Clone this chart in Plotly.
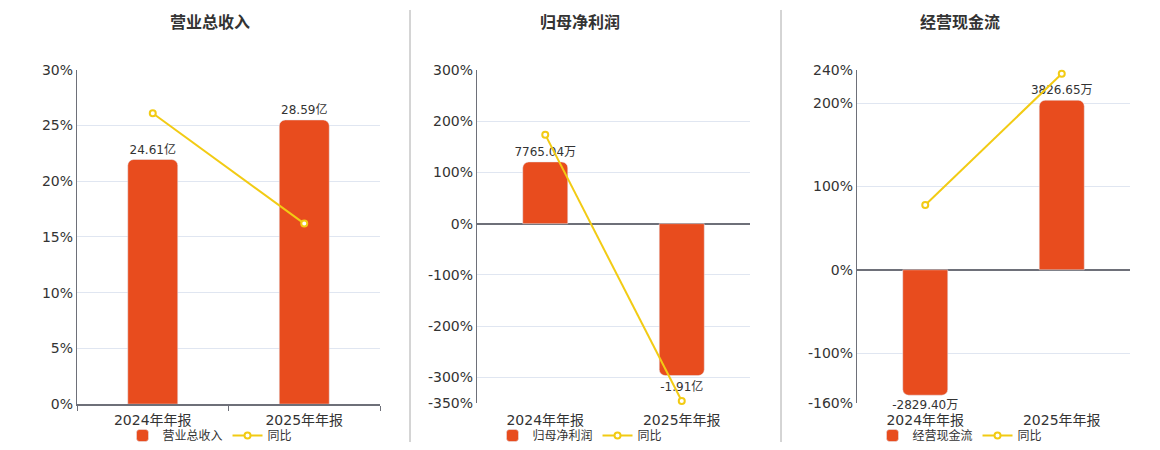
import plotly.graph_objects as go

years = ["2024年年报", "2025年年报"]

titles = ["营业总收入", "归母净利润", "经营现金流"]

# bar values in 亿, labels as shown
rev_vals = [24.61, 28.59]
rev_text = ["24.61亿", "28.59亿"]
rev_yoy = [26.1, 16.2]

np_vals = [0.776504, -1.91]
np_text = ["7765.04万", "-1.91亿"]
np_yoy = [173.6, -346.0]

cf_vals = [-0.282940, 0.382665]
cf_text = ["-2829.40万", "3826.65万"]
cf_yoy = [77.8, 235.3]

# tick setup of the percent axes
rev_ticks = [0, 5, 10, 15, 20, 25, 30]
np_ticks = [-350, -300, -200, -100, 0, 100, 200, 300]
cf_ticks = [-160, -100, 0, 100, 200, 240]

BAR = "#E84C1E"
LINE = "#F2CB14"
FONT = "DejaVu Sans, Noto Sans CJK SC"
OFF = 8  # page body margin
W, H = 1160 - OFF, 450 - OFF


def px_x(v):
    return (v - OFF) / W


def px_y(v):
    return 1 - (v - OFF) / H


fig = go.Figure()

panels = [
    (rev_vals, rev_text, rev_yoy, rev_ticks, 1.121, (77, 380), (70, 405), 210),
    (np_vals, np_text, np_yoy, np_ticks, 0.006446, (477, 750), (70, 404), 580),
    (cf_vals, cf_text, cf_yoy, cf_ticks, 0.00188, (857, 1130), (70, 404), 960),
]

for i, (vals, txt, yoy, ticks, ratio, xs, ys, mid) in enumerate(panels):
    n = i + 1
    xa = "x" if n == 1 else f"x{n}"
    yb = "y" if n == 1 else f"y{n}"   # hidden axis for the bars
    ya = f"y{n + 3}"                    # visible percent axis, on top
    lg = "legend" if n == 1 else f"legend{n}"

    fig.add_trace(go.Bar(
        x=years, y=vals, text=txt, textposition="outside",
        textfont=dict(size=12, color="#333"), cliponaxis=False,
        constraintext="none",
        marker=dict(color=BAR, cornerradius=6), width=0.33,
        name=titles[i], xaxis=xa, yaxis=yb, legend=lg,
    ))
    fig.add_trace(go.Scatter(
        x=years, y=yoy, mode="lines+markers", name="同比",
        line=dict(color=LINE, width=2),
        marker=dict(size=6, color="white", line=dict(color=LINE, width=2)),
        cliponaxis=False, xaxis=xa, yaxis=ya, legend=lg,
    ))

    lo, hi = ticks[0], ticks[-1]
    single = (lo == 0)

    fig.update_layout({
        ("xaxis" if n == 1 else f"xaxis{n}"): dict(
            domain=[px_x(xs[0]), px_x(xs[1])], anchor=yb,
            type="category", categoryarray=years,
            showline=single, linecolor="#6E7079", linewidth=2,
            ticks="outside" if single else "", tickson="boundaries",
            ticklen=5, tickcolor="#6E7079", showgrid=False,
            tickfont=dict(size=14, color="#333"), automargin=False,
            ticklabelstandoff=7 if not single else 2,
        ),
        ("yaxis" if n == 1 else f"yaxis{n}"): dict(
            domain=[px_y(ys[1]), px_y(ys[0])], anchor=xa,
            range=[lo * ratio, hi * ratio],
            showticklabels=False, showline=True, linecolor="#6E7079",
            linewidth=1, gridcolor="#E0E6F1", tickvals=[t * ratio for t in ticks],
            zeroline=False, ticks="", automargin=False,
        ),
        f"yaxis{n + 3}": dict(
            overlaying=yb, anchor=xa, range=[lo, hi],
            tickvals=ticks, ticktext=[f"{t}%" for t in ticks],
            tickfont=dict(size=14, color="#333"), ticklabelstandoff=3,
            showgrid=False, showline=False, zeroline=not single,
            zerolinecolor="#6E7079", zerolinewidth=2,
            ticks="", automargin=False,
        ),
        lg: dict(
            orientation="h", x=px_x(mid), xanchor="center",
            y=px_y(436), yanchor="middle", font=dict(size=12, color="#333"),
            bgcolor="rgba(0,0,0,0)", itemwidth=30,
        ),
    })

    fig.add_annotation(
        text=f"<b>{titles[i]}</b>", xref="paper", yref="paper",
        x=px_x(mid), y=px_y(23), xanchor="center", yanchor="middle",
        showarrow=False, font=dict(size=16, color="#333"),
    )

# panel dividers
for px in [410, 781]:
    fig.add_shape(type="line", xref="paper", yref="paper",
                  x0=px_x(px), x1=px_x(px), y0=px_y(443), y1=px_y(10),
                  line=dict(color="#AAAAAA", width=1))

fig.update_layout(
    width=W, height=H, margin=dict(l=0, r=0, t=0, b=0),
    paper_bgcolor="white", plot_bgcolor="white",
    font=dict(family=FONT, color="#333"),
)

fig.write_html("out.html")
